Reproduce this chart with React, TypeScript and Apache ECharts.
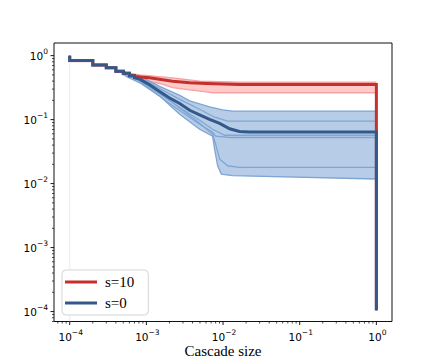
import React, { useEffect, useRef } from 'react';
import * as echarts from 'echarts';

// Axis extents in log10 units
const X_MIN_LOG = -4.205;
const X_MAX_LOG = 0.204;
const Y_MIN_LOG = -4.1555;
const Y_MAX_LOG = 0.1975;
const X_TICK_EXPONENTS = [-4, -3, -2, -1, 0];
const Y_TICK_EXPONENTS = [-4, -3, -2, -1, 0];
const X_TITLE = 'Cascade size';
const LEGEND_NAMES = ['s=10', 's=0'];

type P = [number, number];

// shared early steps (cascade sizes 1..5 of 1e-4)
const earlySteps: P[] = [
  [1e-4, 1], [1e-4, 0.84], [2e-4, 0.84], [2e-4, 0.717], [3e-4, 0.717], [3e-4, 0.644],
  [4e-4, 0.644], [4e-4, 0.57], [5e-4, 0.57],
];

const s0MainTail: P[] = [
  [5e-4, 0.53], [6e-4, 0.53], [6e-4, 0.48], [7e-4, 0.48], [7e-4, 0.45], [8.2e-4, 0.43],
  [1.1e-3, 0.35], [1.49e-3, 0.276], [2.01e-3, 0.218], [2.72e-3, 0.179], [3.67e-3, 0.14],
  [4.95e-3, 0.119], [6.68e-3, 0.101], [9.04e-3, 0.0875], [0.0122, 0.0719], [0.0164, 0.0651],
  [0.022, 0.0641], [1, 0.0641], [1, 1.05e-4],
];

const s10MainTail: P[] = [
  [5e-4, 0.53], [6e-4, 0.53], [6e-4, 0.49], [7e-4, 0.49], [7e-4, 0.47], [8.2e-4, 0.463],
  [1.1e-3, 0.45], [2.2e-3, 0.398], [3.67e-3, 0.376], [6.05e-3, 0.367], [0.0164, 0.354],
  [1, 0.354], [1, 1.05e-4],
];

const s10Upper: P[] = [
  [1e-4, 0.86], [2e-4, 0.86], [2e-4, 0.73], [3e-4, 0.73], [3e-4, 0.66], [4e-4, 0.66],
  [4e-4, 0.585], [5e-4, 0.585], [5e-4, 0.545], [8.2e-4, 0.5], [2.2e-3, 0.45],
  [4.95e-3, 0.398], [0.0164, 0.384], [1, 0.384],
];
const s10Lower: P[] = [
  [1e-4, 0.81], [2e-4, 0.81], [2e-4, 0.7], [3e-4, 0.7], [3e-4, 0.63], [4e-4, 0.63],
  [4e-4, 0.555], [5e-4, 0.555], [5e-4, 0.5], [8.2e-4, 0.423], [1.49e-3, 0.367],
  [2.2e-3, 0.315], [3.67e-3, 0.291], [6.05e-3, 0.271], [7.31e-3, 0.263], [1, 0.263],
];

const s0UpperTail: P[] = [
  [5e-4, 0.55], [8.2e-4, 0.48], [1.49e-3, 0.33], [2.72e-3, 0.239], [3.67e-3, 0.196],
  [4.95e-3, 0.176], [6.68e-3, 0.158], [9.89e-3, 0.142], [0.0133, 0.136], [1, 0.136], [1, 1.05e-4],
];
const s0LowerTail: P[] = [
  [5e-4, 0.53], [5.48e-4, 0.471], [8.2e-4, 0.376], [1.49e-3, 0.233], [2.72e-3, 0.121],
  [4.95e-3, 0.0706], [7.31e-3, 0.055], [7.76e-3, 0.0345], [8.51e-3, 0.019], [9.5e-3, 0.0141],
  [0.0133, 0.0133], [1, 0.0118], [1, 1.05e-4],
];
const s0RunBTail: P[] = [
  [5.48e-4, 0.52], [8.2e-4, 0.46], [1.49e-3, 0.307], [2.72e-3, 0.207], [4.95e-3, 0.145],
  [7.76e-3, 0.109], [0.0115, 0.095], [1, 0.095], [1, 1.05e-4],
];
const s0RunCTail: P[] = [
  [8.2e-4, 0.409], [1.49e-3, 0.256], [2.72e-3, 0.155], [4.95e-3, 0.0975], [7.31e-3, 0.0706],
  [0.0105, 0.057], [1, 0.057], [1, 1.05e-4],
];
const s0RunDTail: P[] = [
  [8.2e-4, 0.394], [2.01e-3, 0.179], [4.95e-3, 0.0845], [7.31e-3, 0.0634], [8.01e-3, 0.055],
  [0.0122, 0.0525], [1, 0.0525], [1, 1.05e-4],
];
const s0RunETail: P[] = [
  [8.2e-4, 0.416], [2.01e-3, 0.2], [4.95e-3, 0.0876], [7.31e-3, 0.059], [8.01e-3, 0.0413],
  [9.04e-3, 0.0241], [0.0115, 0.019], [0.0164, 0.0179], [1, 0.0179], [1, 1.05e-4],
];

const faintLine: P[] = [[1e-4, 1], [1e-4, 7e-5]];

const RED = '#c4302b';
const BLUE = '#33598b';
const RED_FILL = '#ffcaca';
const RED_EDGE = '#f6a2a2';
const BLUE_FILL = '#b7cde7';
const BLUE_RUN = '#7fa5d4';

const toLog = (pts: P[]) => pts.map(([x, y]) => [Math.log10(x), Math.log10(y)]);

const bandSeries = (upper: P[], lower: P[], fill: string) => ({
  type: 'custom',
  silent: true,
  data: [[0, 0]],
  renderItem: (_p: any, api: any) => {
    const up = toLog(upper).map((d) => api.coord(d));
    const lo = toLog(lower).map((d) => api.coord(d)).reverse();
    return { type: 'polygon', shape: { points: up.concat(lo) }, style: { fill, stroke: 'none' } };
  },
});

const lineSeries = (name: string, pts: P[], color: string, width: number) => ({
  type: 'line',
  name,
  data: toLog(pts),
  showSymbol: false,
  symbol: 'none',
  silent: true,
  itemStyle: { color },
  lineStyle: { color, width, join: 'miter' },
});

const FONT = 'DejaVu Sans';
const label = (e: number) => `{b|10}{s|${e < 0 ? '\u2212' : ''}${Math.abs(e)}}`;
const rich = {
  b: { fontSize: 10.5, fontFamily: FONT, fill: '#000', lineHeight: 14, verticalAlign: 'bottom' },
  s: { fontSize: 7.5, fontFamily: FONT, fill: '#000', lineHeight: 9, verticalAlign: 'top' },
};

const ticksSeries = {
  type: 'custom',
  silent: true,
  clip: false,
  z: 10,
  data: [[0, 0]],
  renderItem: (_p: any, api: any) => {
    const children: any[] = [];
    for (let n = -5; n <= 0; n++) {
      for (let m = 1; m <= 9; m++) {
        const lv = Math.log10(m * Math.pow(10, n));
        const major = m === 1;
        const len = major ? 3.5 : 2;
        const lw = major ? 0.9 : 0.7;
        if (lv >= X_MIN_LOG && lv <= X_MAX_LOG) {
          const p = api.coord([lv, Y_MIN_LOG]);
          children.push({ type: 'line', shape: { x1: p[0], y1: p[1], x2: p[0], y2: p[1] + len }, style: { stroke: '#000', lineWidth: lw } });
        }
        if (lv >= Y_MIN_LOG && lv <= Y_MAX_LOG) {
          const p = api.coord([X_MIN_LOG, lv]);
          children.push({ type: 'line', shape: { x1: p[0], y1: p[1], x2: p[0] - len, y2: p[1] }, style: { stroke: '#000', lineWidth: lw } });
        }
      }
    }
    X_TICK_EXPONENTS.forEach((e) => {
      const p = api.coord([e, Y_MIN_LOG]);
      children.push({ type: 'text', style: { text: label(e), rich, x: p[0] + 1, y: p[1] + 7, align: 'center', verticalAlign: 'top' } });
    });
    Y_TICK_EXPONENTS.forEach((e) => {
      const p = api.coord([X_MIN_LOG, e]);
      children.push({ type: 'text', style: { text: label(e), rich, x: p[0] - 6, y: p[1] - 1, align: 'right', verticalAlign: 'middle' } });
    });
    return { type: 'group', children };
  },
};

export default function App() {
  const ref = useRef<HTMLDivElement>(null);
  useEffect(() => {
    if (!ref.current) return;
    const chart = echarts.init(ref.current, undefined, { renderer: 'svg' });
    chart.setOption({
      animation: false,
      backgroundColor: '#fff',
      grid: { left: 54, top: 43, width: 338, height: 280, show: true, borderColor: '#111', borderWidth: 1, backgroundColor: 'transparent' },
      xAxis: {
        type: 'value', min: X_MIN_LOG, max: X_MAX_LOG,
        axisLine: { show: false }, axisTick: { show: false }, axisLabel: { show: false }, splitLine: { show: false },
        name: X_TITLE, nameLocation: 'middle', nameGap: 29,
        nameTextStyle: { fontFamily: 'Liberation Serif', fontSize: 15, color: '#000', verticalAlign: 'middle' },
      },
      yAxis: {
        type: 'value', min: Y_MIN_LOG, max: Y_MAX_LOG,
        axisLine: { show: false }, axisTick: { show: false }, axisLabel: { show: false }, splitLine: { show: false },
      },
      legend: {
        data: LEGEND_NAMES,
        orient: 'vertical',
        left: 62, top: 270,
        icon: 'rect', itemWidth: 32, itemHeight: 3, itemGap: 5,
        padding: [4, 14, 4, 3],
        backgroundColor: 'rgba(255,255,255,0.85)',
        borderColor: '#d4d4d4', borderWidth: 1, borderRadius: 4,
        textStyle: { fontFamily: 'Liberation Serif', fontSize: 15, color: '#000', lineHeight: 16, padding: [0, 0, 0, 3] },
      },
      series: [
        lineSeries('faint', faintLine, '#ececec', 1),
        bandSeries(s10Upper, s10Lower, RED_FILL),
        lineSeries('r-up', s10Upper, RED_EDGE, 1.3),
        lineSeries('r-lo', s10Lower, RED_EDGE, 1.3),
        bandSeries(earlySteps.concat(s0UpperTail), earlySteps.concat(s0LowerTail), BLUE_FILL),
        lineSeries('b-a', earlySteps.concat(s0UpperTail), BLUE_RUN, 1.3),
        lineSeries('b-b', earlySteps.concat(s0RunBTail), BLUE_RUN, 1.3),
        lineSeries('b-c', earlySteps.concat(s0RunCTail), BLUE_RUN, 1.3),
        lineSeries('b-d', earlySteps.concat(s0RunDTail), BLUE_RUN, 1.3),
        lineSeries('b-e', earlySteps.concat(s0RunETail), BLUE_RUN, 1.3),
        lineSeries('b-f', earlySteps.concat(s0LowerTail), BLUE_RUN, 1.3),
        lineSeries('s=10', earlySteps.concat(s10MainTail), RED, 3),
        lineSeries('s=0', earlySteps.concat(s0MainTail), BLUE, 3),
        ticksSeries,
      ],
    });
    return () => chart.dispose();
  }, []);
  return <div ref={ref} style={{ position: 'fixed', left: 0, top: 0, width: 436, height: 363 }} />;
}
